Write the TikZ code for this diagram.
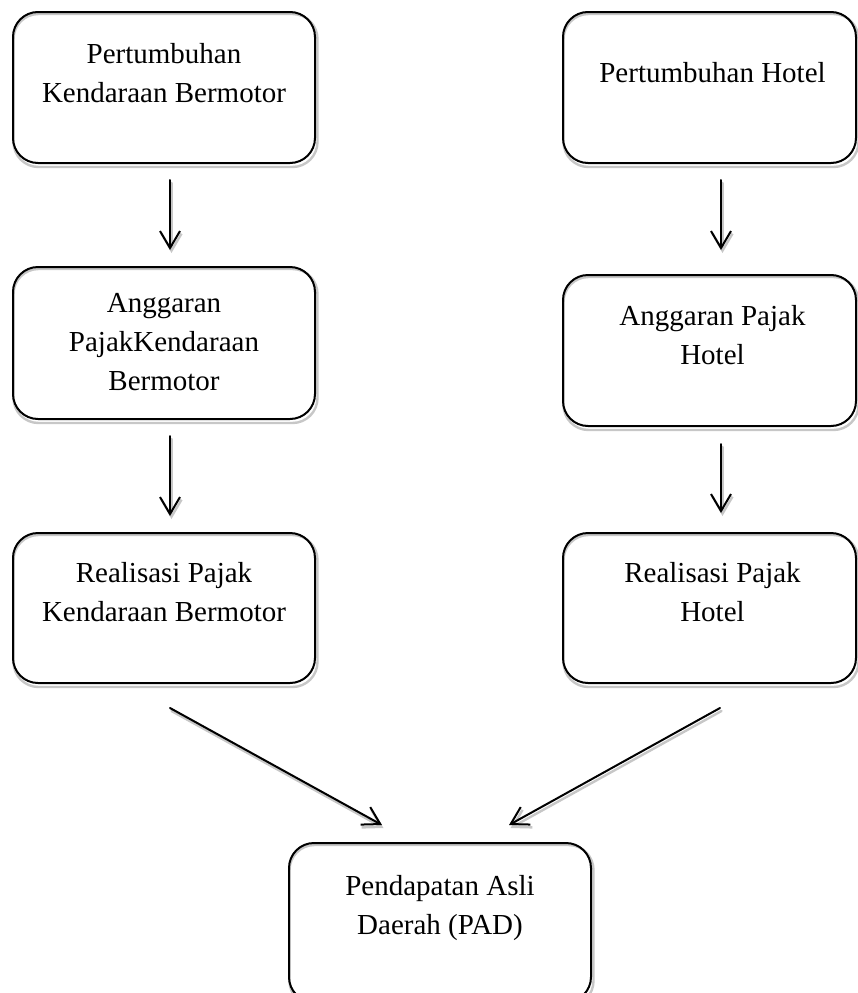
\documentclass[tikz,border=0pt]{standalone}
\usepackage{fontspec}
\setmainfont{Liberation Serif}
\usetikzlibrary{arrows.meta}
\pgfdeclarelayer{bg}
\pgfsetlayers{bg,main}
\tikzset{
  box/.style={draw=black, line width=2pt, rounded corners=25pt, rectangle, inner sep=0pt, minimum width=302pt},
  txt/.style={anchor=north, inner sep=0pt, align=center, font=\fontsize{29}{39}\selectfont},
  arr/.style={draw=black, line width=2pt, line cap=round, -{Straight Barb[length=17pt,width=20pt,line width=2pt]}},
  shd/.style={draw=black!22, line width=2.4pt, line cap=round},
  shdarr/.style={shd, -{Straight Barb[length=17pt,width=20pt,line width=2.4pt]}}
}
\begin{document}
\begin{tikzpicture}[x=1pt,y=-1pt]
\clip (0,0) rectangle (857,993);
\useasboundingbox (0,0) rectangle (857,993);
% boxes
\node[box, minimum height=151pt] (L1) at (164,87.5) {};
\node[box, minimum height=151pt, minimum width=293pt] (R1) at (709.5,87.5) {};
\node[box, minimum height=152pt] (L2) at (164,343) {};
\node[box, minimum height=151pt, minimum width=293pt] (R2) at (709.5,350.5) {};
\node[box, minimum height=150pt] (L3) at (164,608) {};
\node[box, minimum height=150pt, minimum width=293pt] (R3) at (709.5,608) {};
\node[box, minimum height=159pt] (P) at (440,922.5) {};
% texts
\node[txt] (tL1) at ([yshift=-32pt]L1.north) {Pertumbuhan\\Kendaraan Bermotor};
\node[txt] (tR1) at ([shift={(3pt,-51pt)}]R1.north) {Pertumbuhan Hotel};
\node[txt] (tL2) at ([yshift=-27pt]L2.north) {Anggaran\\PajakKendaraan\\Bermotor};
\node[txt] (tR2) at ([shift={(3pt,-31pt)}]R2.north) {Anggaran Pajak\\Hotel};
\node[txt] (tL3) at ([yshift=-30pt]L3.north) {Realisasi Pajak\\Kendaraan Bermotor};
\node[txt] (tR3) at ([shift={(3pt,-30pt)}]R3.north) {Realisasi Pajak\\Hotel};
\node[txt] (tP) at ([yshift=-33pt]P.north) {Pendapatan Asli\\Daerah (PAD)};
% free ends of diagonal connectors
\coordinate (d1s) at ([shift={(6pt,-24pt)}]L3.south);
\coordinate (d1e) at ([shift={(-58pt,17pt)}]P.north);
\coordinate (d2s) at ([shift={(10.5pt,-24pt)}]R3.south);
\coordinate (d2e) at ([shift={(69pt,17pt)}]P.north);
% shadows
\begin{pgfonlayer}{bg}
\begin{scope}[transform canvas={shift={(1.5pt,-3pt)}}]
\foreach \n in {L1,R1,L2,R2,L3,R3,P}{
  \draw[shd, rounded corners=25pt] (\n.south west) rectangle (\n.north east);
}
\draw[shdarr, shorten <=16pt, shorten >=16pt] ([xshift=6pt]L1.south) -- ([xshift=6pt]L2.north);
\draw[shdarr, shorten <=16pt, shorten >=16pt] ([xshift=6pt]L2.south) -- ([xshift=6pt]L3.north);
\draw[shdarr, shorten <=16pt, shorten >=24pt] ([xshift=11.5pt]R1.south) -- ([xshift=11.5pt]R2.north);
\draw[shdarr, shorten <=17pt, shorten >=19pt] ([xshift=11.5pt]R2.south) -- ([xshift=11.5pt]R3.north);
\draw[shdarr] (d1s) -- (d1e);
\draw[shdarr] (d2s) -- (d2e);
\end{scope}
\end{pgfonlayer}
% connectors
\draw[arr, shorten <=16pt, shorten >=16pt] ([xshift=6pt]L1.south) -- ([xshift=6pt]L2.north);
\draw[arr, shorten <=16pt, shorten >=16pt] ([xshift=6pt]L2.south) -- ([xshift=6pt]L3.north);
\draw[arr, shorten <=16pt, shorten >=24pt] ([xshift=11.5pt]R1.south) -- ([xshift=11.5pt]R2.north);
\draw[arr, shorten <=17pt, shorten >=19pt] ([xshift=11.5pt]R2.south) -- ([xshift=11.5pt]R3.north);
\draw[arr] (d1s) -- (d1e);
\draw[arr] (d2s) -- (d2e);
\end{tikzpicture}
\end{document}
